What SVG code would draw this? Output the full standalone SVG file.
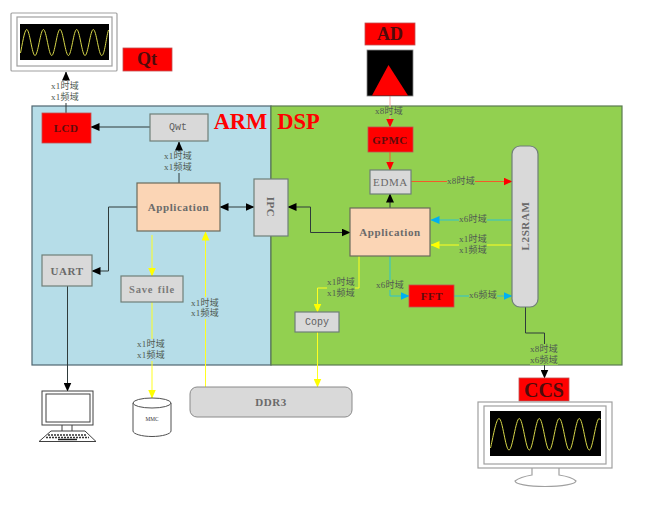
<svg xmlns="http://www.w3.org/2000/svg" width="654" height="521" viewBox="0 0 654 521">
  <style>
    text { font-family: "Liberation Serif", "Noto Sans CJK SC", serif; text-anchor: middle; dominant-baseline: central; }
    .box { stroke: #6f7f78; stroke-width: 1.2; }
    .gray { fill: #d9d9d9; }
    .red { fill: #ff0000; stroke: #c05050; stroke-width: .8; }
    .peach { fill: #fbd5b5; stroke: #6b6b5c; stroke-width: 1.2; }
    .t-gray { fill: #6a6a6a; font-weight: 700; font-size: 11px; letter-spacing: .6px; }
    .t-mono { fill: #5f5f5f; font-family: "Liberation Mono", "Noto Sans CJK SC", monospace; font-size: 10px; }
    .t-save { fill: #7a7a7a; font-weight: 700; font-size: 10.5px; letter-spacing: .8px; word-spacing: 1px; }
    .t-red { fill: #5e0c0c; font-weight: 700; font-size: 11px; letter-spacing: .5px; }
    .t-big { fill: #4e0b0b; font-weight: 700; }
    .t-title { fill: #ff0000; font-weight: 700; font-size: 22.500px; }
    .lab { font-size: 9px; letter-spacing: .3px; fill: #4f5a52; }
    .bg-w { fill: #ffffff; } .bg-b { fill: #b6dde8; } .bg-g { fill: #92d050; }
    .wire { fill: none; stroke-width: 1; }
    .k { stroke: #2f3b3b; } .r { stroke: #f25a2a; } .y { stroke: #ffff20; } .c { stroke: #2cc3cf; } .p { stroke: #f8a0a0; }
    .mon { fill: #ffffff; stroke: #a0a0a0; stroke-width: 1.2; }
    .wave { fill: none; stroke: #d8d84a; stroke-width: 1; }
    .pc { fill: #ffffff; stroke: #404040; stroke-width: 1; }
  </style>
  <defs>
    <marker id="ak" markerUnits="userSpaceOnUse" markerWidth="9" markerHeight="8" refX="8.5" refY="4" orient="auto-start-reverse"><path d="M0,0L9,4L0,8z" fill="#000"/></marker>
    <marker id="ar" markerUnits="userSpaceOnUse" markerWidth="9" markerHeight="8" refX="8.5" refY="4" orient="auto"><path d="M0,0L9,4L0,8z" fill="#ff0000"/></marker>
    <marker id="ay" markerUnits="userSpaceOnUse" markerWidth="9" markerHeight="8" refX="8.5" refY="4" orient="auto"><path d="M0,0L9,4L0,8z" fill="#ffff00"/></marker>
    <marker id="ac" markerUnits="userSpaceOnUse" markerWidth="9" markerHeight="8" refX="8.5" refY="4" orient="auto"><path d="M0,0L9,4L0,8z" fill="#00b0f0"/></marker>
  </defs>

  <!-- processor regions -->
  <g id="arm-region"><rect x="32" y="106" width="239" height="259" fill="#b6dde8" stroke="#4f6670" stroke-width="1.2"/></g>
  <g id="dsp-region"><rect x="271" y="106" width="351" height="259" fill="#92d050" stroke="#5a7a50" stroke-width="1.2"/></g>
  <text class="t-title" x="240.500" y="121">ARM</text>
  <text class="t-title" x="298.500" y="121">DSP</text>

  <g id="connectors">
    <path class="wire k" d="M66,113V72" marker-end="url(#ak)"/>
    <path class="wire k" d="M150,127H91" marker-end="url(#ak)"/>
    <path class="wire k" d="M179,183V142" marker-end="url(#ak)"/>
    <path class="wire k" d="M137,207H108.500V271H92" marker-end="url(#ak)"/>
    <path class="wire k" d="M220,207H254" marker-start="url(#ak)" marker-end="url(#ak)"/>
    <path class="wire k" d="M288,207H310.500V232.500H350" marker-start="url(#ak)" marker-end="url(#ak)"/>
    <path class="wire y" d="M152,235V276" marker-end="url(#ay)"/>
    <path class="wire y" d="M152,302V398" marker-end="url(#ay)"/>
    <path class="wire y" d="M205.500,387V232" marker-end="url(#ay)"/>
    <path class="wire k" d="M67.500,286V391" marker-end="url(#ak)"/>
    <path class="wire p" d="M390,96V127" marker-end="url(#ar)"/>
    <path class="wire r" d="M390,152V170" marker-end="url(#ar)"/>
    <path class="wire r" d="M411,181.500H512" marker-end="url(#ar)"/>
    <path class="wire k" d="M390,208V194" marker-end="url(#ak)"/>
    <path class="wire c" d="M512,220H431" marker-end="url(#ac)"/>
    <path class="wire y" d="M512,245H431" marker-end="url(#ay)"/>
    <path class="wire y" d="M359,256V288H317.500V312" marker-end="url(#ay)"/>
    <path class="wire c" d="M390,256V296H409" marker-end="url(#ac)"/>
    <path class="wire c" d="M454,296H512" marker-end="url(#ac)"/>
    <path class="wire y" d="M317.500,332V387" marker-end="url(#ay)"/>
    <path class="wire k" d="M525.500,307V333H544.500V378" marker-end="url(#ak)"/>
  </g>

  <g id="connector-labels">
    <rect class="bg-w" x="50" y="81" width="30" height="22"/>
    <text class="lab" x="65" y="86">x1时域</text><text class="lab" x="65" y="97">x1频域</text>
    <rect class="bg-b" x="163" y="152" width="30" height="21"/>
    <text class="lab" x="178" y="156">x1时域</text><text class="lab" x="178" y="167">x1频域</text>
    <rect class="bg-b" x="190" y="297" width="30" height="22"/>
    <text class="lab" x="205" y="303">x1时域</text><text class="lab" x="205" y="313">x1频域</text>
    <rect class="bg-b" x="137" y="339" width="30" height="22"/>
    <text class="lab" x="151" y="344">x1时域</text><text class="lab" x="151" y="355">x1频域</text>
    <rect class="bg-g" x="375" y="107" width="28" height="9"/>
    <text class="lab" x="389" y="111">x8时域</text>
    <rect class="bg-g" x="447" y="176" width="28" height="10"/>
    <text class="lab" x="461" y="181">x8时域</text>
    <rect class="bg-g" x="459" y="214" width="28" height="10"/>
    <text class="lab" x="473" y="219">x6时域</text>
    <rect class="bg-g" x="459" y="234" width="28" height="21"/>
    <text class="lab" x="473" y="239">x1时域</text><text class="lab" x="473" y="250">x1频域</text>
    <rect class="bg-g" x="327" y="277" width="28" height="21"/>
    <text class="lab" x="341" y="282">x1时域</text><text class="lab" x="341" y="293">x1频域</text>
    <rect class="bg-g" x="376" y="280" width="28" height="10"/>
    <text class="lab" x="390" y="285">x6时域</text>
    <rect class="bg-g" x="469" y="290" width="28" height="10"/>
    <text class="lab" x="483" y="295">x6频域</text>
    <rect class="bg-g" x="530" y="344" width="28" height="21"/>
    <text class="lab" x="544" y="349">x8时域</text><text class="lab" x="544" y="360">x6频域</text>
  </g>

  <g id="qt-monitor">
    <rect class="mon" x="11" y="13" width="106" height="58" rx="1"/>
    <rect class="mon" x="17" y="17" width="95" height="49"/>
    <rect x="20" y="24" width="89" height="36" fill="#000"/>
    <path class="wave" d="M20.500,53C22,46 24.500,29.500 26.700,29.500C29.700,29.500 32,55.500 35,55.500S40.400,29.500 43.400,29.500S48.700,55.500 51.700,55.500S57,29.500 60,29.500S65.400,55.500 68.400,55.500S73.700,29.500 76.700,29.500S82,55.500 85,55.500S90.300,29.500 93.300,29.500S98.700,55.500 101.700,55.500S106,38 108.500,30"/>
  </g>
  <g id="qt"><rect class="red" x="123" y="48" width="49" height="23"/><text class="t-big" x="147" y="59" font-size="18">Qt</text></g>
  <g id="lcd"><rect class="red" x="42" y="113" width="49" height="30"/><text class="t-red" x="66" y="128">LCD</text></g>
  <g id="qwt"><rect class="gray box" x="150" y="114" width="58" height="27"/><text class="t-mono" x="178" y="127">Qwt</text></g>
  <g id="arm-app"><rect class="peach" x="137" y="183" width="83" height="48"/><text class="t-gray" x="178.500" y="207">Application</text></g>
  <g id="uart"><rect class="gray box" x="42" y="255" width="50" height="31"/><text class="t-gray" x="67" y="271">UART</text></g>
  <g id="save-file"><rect class="gray box" x="121" y="276" width="62" height="26"/><text class="t-save" x="152" y="289">Save file</text></g>
  <g id="ipc"><rect class="gray box" x="254" y="179" width="34" height="57"/><text class="t-gray" transform="translate(271,207) rotate(90)">IPC</text></g>

  <g id="ad"><rect class="red" x="365" y="23" width="50" height="22"/><text class="t-big" x="390" y="34" font-size="18">AD</text></g>
  <g id="ad-chip"><rect x="367" y="50" width="46" height="46" fill="#000" stroke="#888" stroke-width=".8"/><path d="M388.500,65L408,95.500H372z" fill="#ff0000"/></g>
  <g id="gpmc"><rect class="red" x="368" y="127" width="45" height="25"/><text class="t-red" x="390" y="140">GPMC</text></g>
  <g id="edma"><rect class="gray box" x="370" y="170" width="41" height="24"/><text class="t-gray" x="390.500" y="182" style="font-weight:400" font-size="11">EDMA</text></g>
  <g id="l2sram"><rect class="gray box" x="512" y="146" width="26" height="161" rx="8"/><text class="t-gray" transform="translate(525,226) rotate(-90)">L2SRAM</text></g>
  <g id="dsp-app"><rect class="peach" x="350" y="208" width="80" height="48"/><text class="t-gray" x="390" y="232">Application</text></g>
  <g id="fft"><rect class="red" x="409" y="285" width="45" height="22"/><text class="t-red" x="432" y="296">FFT</text></g>
  <g id="copy"><rect class="gray box" x="295" y="312" width="44" height="20"/><text class="t-mono" x="317" y="322">Copy</text></g>

  <g id="ddr3"><rect x="190" y="387" width="162" height="30" rx="7" fill="#d9d9d9" stroke="#8a8a8a" stroke-width="1"/><text class="t-gray" x="271" y="402">DDR3</text></g>
  <g id="mmc">
    <path d="M133,403V431C133,434 142,436.500 152,436.500S171,434 171,431V403z" fill="#fff" stroke="#505050"/>
    <ellipse cx="152" cy="403" rx="19" ry="5" fill="#fff" stroke="#505050"/>
    <text x="152" y="419" font-size="7" fill="#333" textLength="13" lengthAdjust="spacingAndGlyphs">MMC</text>
  </g>
  <g id="pc">
    <rect class="pc" x="42" y="391" width="51" height="34"/>
    <rect class="pc" x="46" y="394" width="44" height="28"/>
    <path class="pc" d="M62,425V431M72,425V431"/>
    <path class="pc" d="M51,431H85L96,441.500H39z"/>
    <path d="M48,435H87M46,437.500H89" stroke="#333" stroke-width="1.500" stroke-dasharray="2 1" fill="none"/>
    <path d="M58,439.500H77" stroke="#222" stroke-width="1.500"/>
  </g>
  <g id="ccs"><rect class="red" x="519" y="378" width="50" height="23"/><text class="t-big" x="544" y="390" font-size="20">CCS</text></g>
  <g id="ccs-monitor">
    <path class="mon" d="M532,467V475Q520,477 515,481C515,484 528,486.500 545,486.500S576,484 576,481Q572,477 559,475V467z" stroke-width="1"/>
    <rect class="mon" x="478" y="402" width="134" height="66"/>
    <rect class="mon" x="484" y="406" width="122" height="58"/>
    <rect x="490" y="411" width="111" height="45" fill="#000"/>
    <path class="wave" d="M490.500,448C492.500,440 496,418.500 499,418.500C502.600,418.500 505.400,450 509,450S515.700,418.500 519.300,418.500S525.700,450 529.300,450S535.700,418.500 539.300,418.500S545.700,450 549.300,450S555.700,418.500 559.300,418.500S565.700,450 569.300,450S575.700,418.500 579.300,418.500S585.700,450 589.300,450S595.700,418.500 599.300,418.500L600.500,420"/>
  </g>
</svg>
